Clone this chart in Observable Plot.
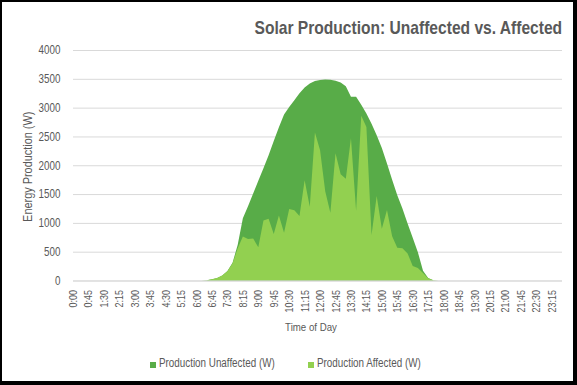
<!DOCTYPE html>
<html><head><meta charset="utf-8">
<script src="https://cdn.jsdelivr.net/npm/d3@7"></script>
<script src="https://cdn.jsdelivr.net/npm/@observablehq/plot@0.6"></script>
<style>
body{margin:0;background:#fff;}
#chart{position:relative;width:577px;height:385px;background:#fff;font-family:"Liberation Sans",Arial,sans-serif;color:#595959;overflow:hidden}
#frame{position:absolute;left:0;top:0;width:577px;height:385px;box-sizing:border-box;border-style:solid;border-color:#000;border-width:2px 4px 4px 2px;pointer-events:none}
#title{position:absolute;right:15px;top:18px;font-size:19px;font-weight:bold;white-space:nowrap;line-height:1;transform:scaleX(0.82);transform-origin:right center}
#plot{position:absolute;left:0;top:0}
.sw{position:absolute;width:6px;height:6px}
.lt{position:absolute;font-size:12px;line-height:1;white-space:nowrap;transform:scaleX(0.82);transform-origin:left center}
</style>
</head><body>
<div id="chart">
  <div id="plot"></div>
  <div id="title">Solar Production: Unaffected vs. Affected</div>
  <div class="sw" id="sw1"></div><div class="lt" id="lt1"></div>
  <div class="sw" id="sw2"></div><div class="lt" id="lt2"></div>
  <div id="frame"></div>
</div>
<script>
const times = ["0:00","0:15","0:30","0:45","1:00","1:15","1:30","1:45","2:00","2:15","2:30","2:45",
"3:00","3:15","3:30","3:45","4:00","4:15","4:30","4:45","5:00","5:15","5:30","5:45",
"6:00","6:15","6:30","6:45","7:00","7:15","7:30","7:45","8:00","8:15","8:30","8:45",
"9:00","9:15","9:30","9:45","10:00","10:15","10:30","10:45","11:00","11:15","11:30","11:45",
"12:00","12:15","12:30","12:45","13:00","13:15","13:30","13:45","14:00","14:15","14:30","14:45",
"15:00","15:15","15:30","15:45","16:00","16:15","16:30","16:45","17:00","17:15","17:30","17:45",
"18:00","18:15","18:30","18:45","19:00","19:15","19:30","19:45","20:00","20:15","20:30","20:45",
"21:00","21:15","21:30","21:45","22:00","22:15","22:30","22:45","23:00","23:15","23:30","23:45"];

const unaffected = [0,0,0,0,0,0,0,0,0,0,0,0,0,0,0,0,0,0,0,0,0,0,0,0,0,0,
5,20,45,85,165,310,620,1080,1290,1510,1730,1950,2175,2420,2660,2880,3010,3130,3250,3350,3420,3460,3480,3490,3485,3465,3435,3370,3190,3190,3050,2900,2720,2520,2300,2030,1750,1480,1250,990,740,490,170,45,5,
0,0,0,0,0,0,0,0,0,0,0,0,0,0,0,0,0,0,0,0,0,0,0,0,0];

const affected = [0,0,0,0,0,0,0,0,0,0,0,0,0,0,0,0,0,0,0,0,0,0,0,0,0,0,
5,20,45,85,160,300,560,765,720,730,575,1040,1070,805,1130,830,1240,1220,1120,1740,1280,2570,2260,1550,1177,2210,1845,1765,2470,1210,2860,2665,790,1466,900,1223,770,570,560,470,250,215,130,40,5,
0,0,0,0,0,0,0,0,0,0,0,0,0,0,0,0,0,0,0,0,0,0,0,0,0];

const yTicks = [0,500,1000,1500,2000,2500,3000,3500,4000];
const xTickIdx = [0,3,6,9,12,15,18,21,24,27,30,33,36,39,42,45,48,51,54,57,60,63,66,69,72,75,78,81,84,87,90,93];
const seriesNames = ["Production Unaffected (W)","Production Affected (W)"];
const seriesColors = ["#58AC48","#92D050"];

const FONT = '"Liberation Sans",Arial,sans-serif';
const data = times.map((t, i) => ({i, t, unaffected: unaffected[i], affected: affected[i]}));

const plot = Plot.plot({
  width: 577, height: 340,
  marginLeft: 73, marginRight: 15, marginTop: 50, marginBottom: 59.5,
  style: {fontFamily: FONT, fontSize: "11px", color: "#595959", background: "transparent"},
  x: {domain: [0, 95]},
  y: {domain: [0, 4000]},
  marks: [
    Plot.gridY(yTicks, {stroke: "#d9d9d9", strokeOpacity: 1}),
    Plot.areaY(data, {x: "i", y: "unaffected", fill: seriesColors[0]}),
    Plot.areaY(data, {x: "i", y: "affected", fill: seriesColors[1]}),
    Plot.ruleY([0], {stroke: "#d9d9d9"}),
    Plot.axisY(yTicks, {tickSize: 0, tickPadding: 13, fontSize: 12, tickFormat: d => String(d), label: null}),
    Plot.axisX(xTickIdx, {tickSize: 0, tickPadding: 9, tickRotate: -90, fontSize: 11, tickFormat: i => times[i], label: null}),
    Plot.text(["Energy Production (W)"], {frameAnchor: "left", textAnchor: "middle", rotate: -90, dx: -46, dy: 1, fontSize: 13.3, fill: "#595959"}),
    Plot.text(["Time of Day"], {frameAnchor: "bottom", textAnchor: "middle", dx: -7, dy: 50, fontSize: 11.8, fill: "#595959"})
  ]
});
// narrow the glyphs (Arial Narrow look) without moving anchors
plot.querySelectorAll("text").forEach(t => {
  const tr = t.getAttribute("transform") || "";
  t.setAttribute("transform", (tr + " scale(0.82,1)").trim());
  const x = t.getAttribute("x"); if (x) t.setAttribute("x", +x / 0.82);
});
document.getElementById("plot").appendChild(plot);

const sw1 = document.getElementById("sw1"), sw2 = document.getElementById("sw2");
sw1.style.cssText = `left:150px;top:361.5px;background:${seriesColors[0]}`;
sw2.style.cssText = `left:308px;top:361.5px;background:${seriesColors[1]}`;
const lt1 = document.getElementById("lt1"), lt2 = document.getElementById("lt2");
lt1.textContent = seriesNames[0]; lt1.style.cssText = "left:159.3px;top:357.1px";
lt2.textContent = seriesNames[1]; lt2.style.cssText = "left:317.3px;top:357.1px";
</script>
</body></html>
